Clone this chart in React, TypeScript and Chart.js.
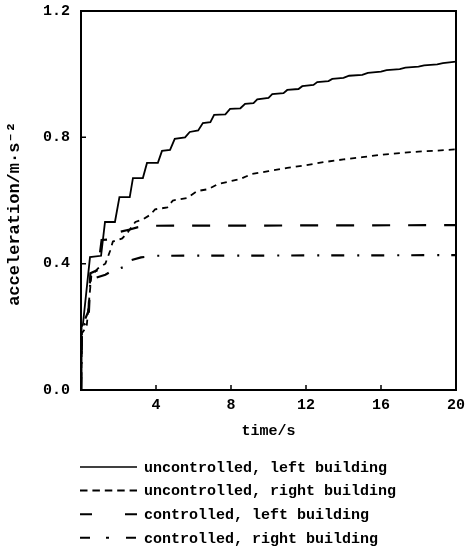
import React, { useEffect, useRef } from "react";
import { Chart, registerables } from "chart.js";

Chart.register(...registerables);

// ---- data (time in s, acceleration in m/s^2) ----
const seriesLabels = [
  "uncontrolled, left building",
  "uncontrolled, right building",
  "controlled, left building",
  "controlled, right building",
];

const uncontrolledLeftT = [0, 0.03, 0.1, 0.48, 1.07, 1.28, 1.81, 2.05, 2.6, 2.77, 3.3, 3.52, 4.1, 4.32, 4.75, 5.0, 5.55, 5.8, 6.25, 6.5, 6.9, 7.1, 7.7, 7.95, 8.5, 8.75, 9.2, 9.4, 10.0, 10.2, 10.8, 11.0, 11.6, 11.8, 12.4, 12.6, 13.2, 13.4, 14.0, 14.3, 15.0, 15.3, 16.0, 16.3, 17.0, 17.3, 18.0, 18.3, 19.0, 19.3, 20];
const uncontrolledLeftA = [0, 0.2, 0.206, 0.421, 0.425, 0.532, 0.532, 0.611, 0.611, 0.671, 0.671, 0.719, 0.719, 0.757, 0.76, 0.795, 0.8, 0.817, 0.822, 0.845, 0.848, 0.871, 0.873, 0.89, 0.892, 0.906, 0.908, 0.92, 0.925, 0.937, 0.94, 0.95, 0.953, 0.962, 0.966, 0.975, 0.978, 0.985, 0.988, 0.995, 0.998, 1.004, 1.008, 1.013, 1.016, 1.021, 1.024, 1.028, 1.031, 1.035, 1.04];

const uncontrolledRightT = [0, 0.05, 0.3, 0.55, 0.9, 1.3, 1.55, 1.7, 2.2, 2.5, 2.9, 3.3, 3.7, 3.95, 4.6, 4.9, 5.65, 6.2, 6.8, 7.3, 7.9, 8.5, 9.1, 10, 11, 12, 13, 14, 15, 16, 17, 18, 19, 20];
const uncontrolledRightA = [0, 0.18, 0.2, 0.36, 0.385, 0.4, 0.44, 0.47, 0.48, 0.5, 0.532, 0.54, 0.555, 0.572, 0.578, 0.6, 0.608, 0.63, 0.636, 0.652, 0.66, 0.668, 0.684, 0.693, 0.703, 0.712, 0.722, 0.73, 0.737, 0.745, 0.75, 0.755, 0.758, 0.762];

const controlledLeftT = [0, 0.05, 0.4, 0.5, 0.9, 1.1, 1.8, 2.0, 2.6, 3.0, 3.6, 20];
const controlledLeftA = [0, 0.2, 0.25, 0.37, 0.38, 0.475, 0.478, 0.5, 0.508, 0.515, 0.52, 0.522];

const controlledRightT = [0, 0.05, 0.4, 0.5, 1.3, 1.6, 2.3, 2.6, 3.2, 4, 20];
const controlledRightA = [0, 0.2, 0.22, 0.35, 0.365, 0.375, 0.39, 0.41, 0.42, 0.425, 0.427];

const xTicks = [4, 8, 12, 16, 20];
const yTicks = [0, 0.4, 0.8, 1.2];
const yTitle = "acceleration/m·s⁻²";
const xTitle = "time/s";

const toPoints = (t: number[], a: number[]) => t.map((x, i) => ({ x, y: a[i] }));

const MONO = '"Liberation Mono", "DejaVu Sans Mono", monospace';

const chartDash = [[], [6, 5], [18, 18], [13, 13, 2, 12]];
const legendDash = [[], [7.5, 4.9], [12, 33], [10, 16, 3, 17]];
const lineWidths = [1.8, 1.8, 2.2, 2.2];

export default function App() {
  const ref = useRef<HTMLCanvasElement | null>(null);

  useEffect(() => {
    if (!ref.current) return;

    const framePlugin = {
      id: "frameAndTicks",
      afterDraw(chart: any) {
        const { ctx, chartArea } = chart;
        const xs = chart.scales.x;
        const ys = chart.scales.y;
        ctx.save();
        ctx.strokeStyle = "#000";
        ctx.lineWidth = 2;
        ctx.setLineDash([]);
        ctx.strokeRect(chartArea.left, chartArea.top, chartArea.right - chartArea.left, chartArea.bottom - chartArea.top);
        ctx.lineWidth = 1.5;
        ctx.beginPath();
        xTicks.forEach((v) => {
          const px = xs.getPixelForValue(v);
          ctx.moveTo(px, chartArea.bottom);
          ctx.lineTo(px, chartArea.bottom - 5);
        });
        yTicks.forEach((v) => {
          const py = ys.getPixelForValue(v);
          ctx.moveTo(chartArea.left, py);
          ctx.lineTo(chartArea.left + 5, py);
        });
        ctx.stroke();

        // y-axis title (rotated)
        ctx.save();
        ctx.translate(15, 214);
        ctx.rotate(-Math.PI / 2);
        ctx.font = `bold 17px ${MONO}`;
        ctx.fillStyle = "#000";
        ctx.textAlign = "center";
        ctx.textBaseline = "middle";
        ctx.fillText(yTitle, 0, 0);
        ctx.restore();

        // legend
        const x0 = 80;
        const x1 = 137;
        const yStart = 467;
        const dy = 23.6;
        ctx.font = `bold 15px ${MONO}`;
        ctx.fillStyle = "#000";
        ctx.textBaseline = "middle";
        ctx.textAlign = "left";
        seriesLabels.forEach((lab, i) => {
          const y = yStart + i * dy;
          ctx.beginPath();
          ctx.lineWidth = i === 0 ? 1.5 : 2;
          ctx.setLineDash(legendDash[i]);
          ctx.moveTo(x0, y);
          ctx.lineTo(x1, y);
          ctx.stroke();
          ctx.setLineDash([]);
          ctx.fillText(lab, 144, y + 1);
        });
        ctx.restore();
      },
    };

    const chart = new Chart(ref.current, {
      type: "line",
      data: {
        datasets: [
          { label: seriesLabels[0], data: toPoints(uncontrolledLeftT, uncontrolledLeftA) },
          { label: seriesLabels[1], data: toPoints(uncontrolledRightT, uncontrolledRightA) },
          { label: seriesLabels[2], data: toPoints(controlledLeftT, controlledLeftA) },
          { label: seriesLabels[3], data: toPoints(controlledRightT, controlledRightA) },
        ].map((d, i) => ({
          ...d,
          borderColor: "#000",
          backgroundColor: "#000",
          borderWidth: lineWidths[i],
          borderDash: chartDash[i],
          pointRadius: 0,
          tension: 0,
          fill: false,
        })) as any,
      },
      options: {
        responsive: false,
        animation: false,
        layout: { padding: { left: 0, right: 11, top: 11, bottom: 106 } },
        plugins: { legend: { display: false }, tooltip: { enabled: false } },
        scales: {
          x: {
            type: "linear",
            min: 0,
            max: 20,
            afterFit: (s: any) => {
              s.height = 50;
              s.paddingLeft = 0;
              s.paddingRight = 0;
            },
            grid: { display: false, drawTicks: false },
            border: { display: true, color: "#000", width: 2 },
            ticks: {
              stepSize: 4,
              padding: 6,
              color: "#000",
              font: { family: MONO, size: 15, weight: "bold" },
              callback: (v: any) => (v === 0 ? "" : String(v)),
              maxRotation: 0,
            },
            title: {
              display: true,
              text: xTitle,
              color: "#000",
              font: { family: MONO, size: 15, weight: "bold" },
              padding: { top: 0, bottom: 0 },
            },
          },
          y: {
            type: "linear",
            min: 0,
            max: 1.2,
            afterFit: (s: any) => {
              s.width = 81;
              s.paddingTop = 0;
              s.paddingBottom = 0;
            },
            grid: { display: false, drawTicks: false },
            border: { display: true, color: "#000", width: 2 },
            ticks: {
              stepSize: 0.4,
              padding: 11,
              color: "#000",
              font: { family: MONO, size: 15, weight: "bold" },
              callback: (v: any) => Number(v).toFixed(1),
            },
            title: { display: false },
          },
        },
      },
      plugins: [framePlugin],
    });

    return () => chart.destroy();
  }, []);

  return (
    <div style={{ position: "absolute", left: 0, top: 0, width: 467, height: 546, background: "#fff" }}>
      <canvas ref={ref} width={467} height={546} style={{ display: "block" }} />
    </div>
  );
}
